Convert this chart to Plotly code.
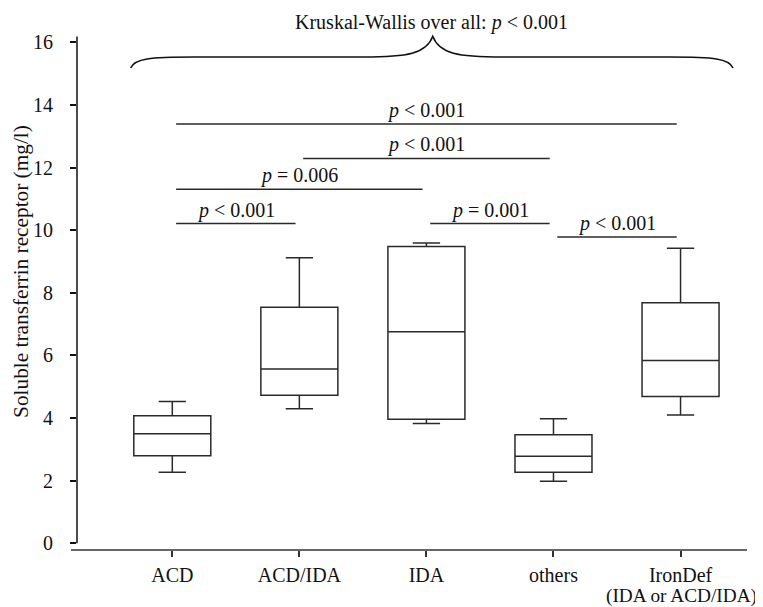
import plotly.graph_objects as go

# ---- data ----
categories = ["ACD", "ACD/IDA", "IDA", "others", "IronDef"]
last_subtitle = "(IDA or ACD/IDA)"
lower_whisker = [2.27, 4.30, 3.83, 1.98, 4.10]
q1_values = [2.80, 4.73, 3.96, 2.27, 4.69]
median_values = [3.50, 5.57, 6.76, 2.78, 5.84]
q3_values = [4.07, 7.54, 9.48, 3.47, 7.68]
upper_whisker = [4.53, 9.12, 9.59, 3.98, 9.42]

# pairwise comparisons: (group a, group b, bar height, label)
comp_a = [0, 1, 0, 0, 2, 3]
comp_b = [4, 3, 2, 1, 3, 4]
comp_y = [13.39, 12.29, 11.31, 10.21, 10.21, 9.78]
comp_labels = ["<i>p</i> &lt; 0.001", "<i>p</i> &lt; 0.001", "<i>p</i> = 0.006",
               "<i>p</i> &lt; 0.001", "<i>p</i> = 0.001", "<i>p</i> &lt; 0.001"]
overall_label = "Kruskal-Wallis over all: <i>p</i> &lt; 0.001"
y_ticks = [0, 2, 4, 6, 8, 10, 12, 14, 16]
y_title = "Soluble transferrin receptor (mg/l)"

FONT = "Liberation Serif"
FS = 20
LC = "#2a2a2a"
xpos = list(range(len(categories)))

fig = go.Figure()
fig.add_trace(go.Box(
    x=xpos, q1=q1_values, median=median_values, q3=q3_values,
    lowerfence=lower_whisker, upperfence=upper_whisker,
    width=0.606, whiskerwidth=0.355, boxpoints=False,
    fillcolor="rgba(0,0,0,0)", line=dict(color=LC, width=1.5),
    showlegend=False, hoverinfo="skip",
))

shapes = []
annotations = []
# significance bars
for a, b, y, lab in zip(comp_a, comp_b, comp_y, comp_labels):
    x0, x1 = a + 0.03, b - 0.03
    shapes.append(dict(type="line", xref="x", yref="y", x0=x0, x1=x1, y0=y, y1=y,
                       line=dict(color=LC, width=1.5)))
    annotations.append(dict(x=(x0 + x1) / 2, y=y, xref="x", yref="y", text=lab,
                            showarrow=False, yanchor="bottom", yshift=0,
                            font=dict(family=FONT, size=FS, color="#111")))

# curly brace over all groups
xl, xr, xt = -0.328, 4.413, 2.05
ye, yf, yt = 15.18, 15.53, 16.19
path = (f"M {xl},{ye} C {xl+0.03},{yf-0.05} {xl+0.15},{yf} {xl+0.5},{yf} "
        f"L {xt-0.55},{yf} C {xt-0.2},{yf} {xt-0.05},{yf+0.1} {xt},{yt} "
        f"C {xt+0.05},{yf+0.1} {xt+0.2},{yf} {xt+0.55},{yf} "
        f"L {xr-0.5},{yf} C {xr-0.15},{yf} {xr-0.03},{yf-0.05} {xr},{ye}")
shapes.append(dict(type="path", xref="x", yref="y", path=path,
                   line=dict(color="#111", width=1.5)))
annotations.append(dict(x=xt - 0.01, y=16.19, xref="x", yref="y", text=overall_label,
                        showarrow=False, yanchor="bottom",
                        font=dict(family=FONT, size=FS, color="#111")))

# second line of the last category label
annotations.append(dict(x=xpos[-1] + 0.01, y=-0.0853, xref="x", yref="paper", text=last_subtitle,
                        showarrow=False, xanchor="center", yanchor="middle",
                        font=dict(family=FONT, size=19.3, color="#111")))

# axis lines (offset style)
shapes.append(dict(type="line", xref="paper", yref="y", x0=0, x1=0, y0=0, y1=16.185,
                   line=dict(color="#111", width=1.5)))
shapes.append(dict(type="line", xref="paper", yref="paper", x0=-0.009, x1=1, y0=0, y1=0,
                   line=dict(color="#333", width=1.5)))

annotations.append(dict(x=-0.0836, y=8.70, xref="paper", yref="y", text=y_title,
                        textangle=-90, showarrow=False, xanchor="center", yanchor="middle",
                        font=dict(family=FONT, size=21.3, color="#111")))

fig.update_layout(
    width=755, height=599,
    margin=dict(l=69, r=16, t=3, b=57, autoexpand=False),
    plot_bgcolor="white", paper_bgcolor="white",
    font=dict(family=FONT, size=FS, color="#111"),
    shapes=shapes, annotations=annotations,
    xaxis=dict(range=[-0.75, 4.523], tickmode="array", tickvals=xpos, ticktext=categories,
               ticks="outside", ticklen=6, tickwidth=1.5, tickcolor="#333",
               showgrid=False, zeroline=False, showline=False, automargin=False,
               ticklabelstandoff=1,
               tickfont=dict(family=FONT, size=FS, color="#111")),
    yaxis=dict(range=[-0.214, 17.0], tickmode="array", tickvals=y_ticks,
               ticks="outside", ticklen=6, tickwidth=1.5, tickcolor="#111",
               showgrid=False, zeroline=False, showline=False, automargin=False,
               ticklabelstandoff=13,
               tickfont=dict(family=FONT, size=FS, color="#111")),
)

fig.write_html("out.html")
